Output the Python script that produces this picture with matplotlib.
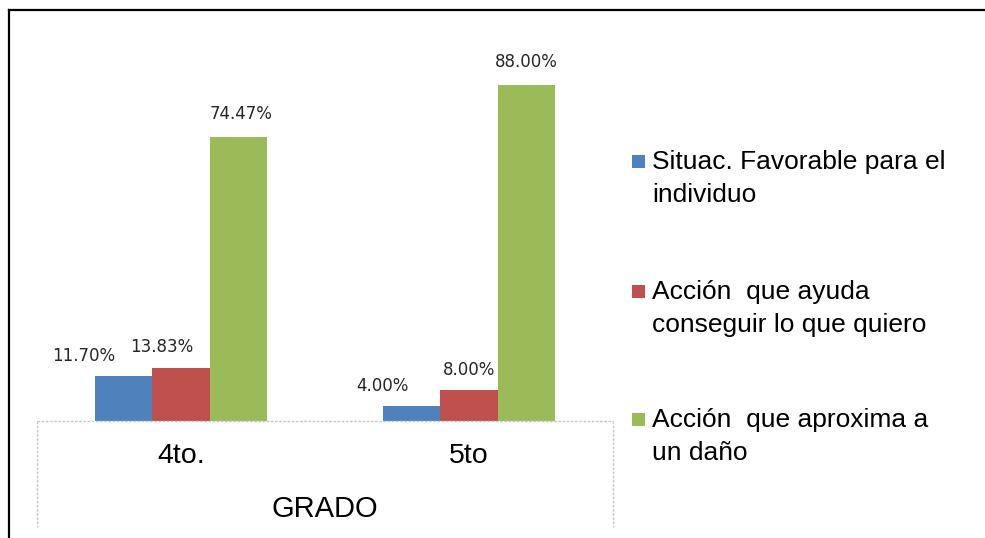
import matplotlib
matplotlib.use("Agg")
import matplotlib.pyplot as plt
import numpy as np
from matplotlib.lines import Line2D
from matplotlib.patches import Rectangle

# data ---------------------------------------------------------------
grades = ["4to.", "5to"]
axis_title = "GRADO"
series = ["Situac. Favorable para el\nindividuo",
          "Acción  que ayuda\nconseguir lo que quiero",
          "Acción  que aproxima a\nun daño"]
favorable = [0.1170, 0.0400]
ayuda = [0.1383, 0.0800]
dano = [0.7447, 0.8800]

colors = ["#4f81bd", "#c0504d", "#9bbb59"]
# hand-placed label offsets (points) like the original chart
label_offsets = [[(-29, 8), (-21, 8)], [(-14, 9), (0, 8)], [(2, 10), (0, 10)]]

W, H = 985, 538
fig = plt.figure(figsize=(W / 100, H / 100), dpi=100)

def fx(px): return px / W
def fy(py): return 1 - py / H

# outer frame (top and left only visible)
fig.add_artist(Line2D([fx(9), 1], [fy(10), fy(10)], color="black", lw=1.6))
fig.add_artist(Line2D([fx(9), fx(9)], [fy(10), 0], color="black", lw=1.6))

ax = fig.add_axes([fx(37), fy(421), fx(613) - fx(37), fy(39) - fy(421)])
x = np.arange(len(grades))
bw = 0.198
vals = [favorable, ayuda, dano]
for i, (v, c) in enumerate(zip(vals, colors)):
    bars = ax.bar(x + (i - 1) * bw, v, bw, color=c, zorder=2)
    for j, b in enumerate(bars):
        ax.annotate(f"{v[j] * 100:.2f}%", (b.get_x() + b.get_width() / 2, b.get_height()),
                    xytext=label_offsets[i][j], textcoords="offset points",
                    ha="center", va="bottom", fontsize=12, color="#262626")

ax.set_xlim(-0.5, 1.5)
ax.set_ylim(0, 1)
ax.axis("off")

# category box below the plot
gray = "#c8c8c8"
fig.add_artist(Line2D([fx(37), fx(613)], [fy(421), fy(421)], color=gray, lw=1, ls=(0, (2, 1))))
fig.add_artist(Line2D([fx(37), fx(37)], [fy(421), fy(527)], color=gray, lw=1, ls=(0, (2, 1))))
fig.add_artist(Line2D([fx(613), fx(613)], [fy(421), fy(527)], color=gray, lw=1, ls=(0, (2, 1))))
for j, g in enumerate(grades):
    xc = 37 + (j + 0.5) * (613 - 37) / len(grades)
    fig.text(fx(xc), fy(456), g, ha="center", va="center", fontsize=20.5,
             family="Liberation Sans")
fig.text(fx(325), fy(509), axis_title, ha="center", va="center", fontsize=21,
         family="Liberation Sans")

# legend drawn by hand: square next to first line of each entry
leg_top = [162, 292, 420]
for k, (lab, c) in enumerate(zip(series, colors)):
    y0 = leg_top[k]
    fig.add_artist(Rectangle((fx(632), fy(y0 + 6)), fx(13), fy(y0 - 7) - fy(y0 + 6),
                             facecolor=c, edgecolor="none"))
    for n, line in enumerate(lab.split("\n")):
        fig.text(fx(652), fy(y0 + 33 * n), line, ha="left", va="center",
                 fontsize=19, family="Liberation Sans")

fig.savefig("out.png", dpi=100)
